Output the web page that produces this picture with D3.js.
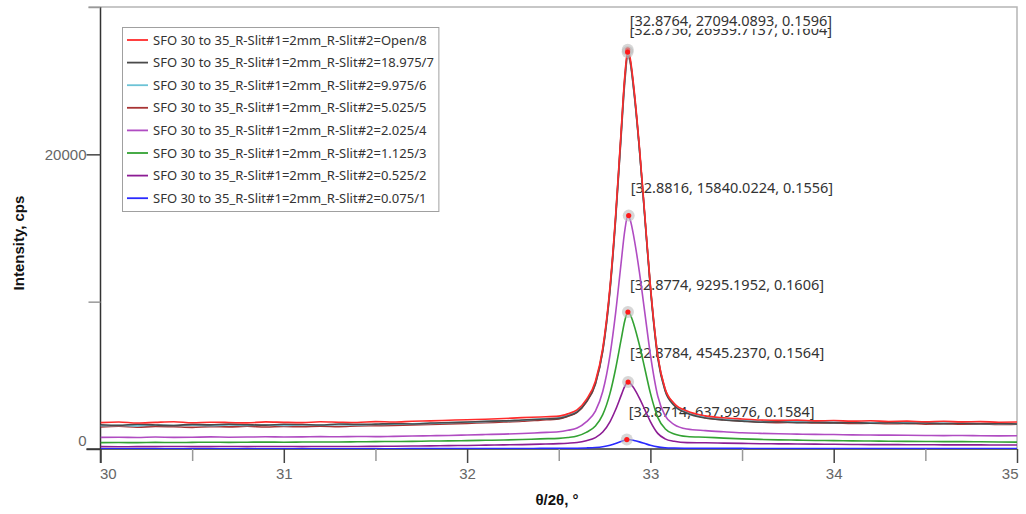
<!DOCTYPE html>
<html>
<head>
<meta charset="utf-8">
<script src="https://cdn.jsdelivr.net/npm/d3@7"></script>
<style>
  body { margin: 0; background: #fff; }
  .tick text { font-family: "Liberation Sans", Arial, sans-serif; font-size: 15px; fill: #666; }
  .title { font-family: "Liberation Sans", Arial, sans-serif; font-size: 15px; font-weight: bold; fill: #111; }
  .legend text, .peak text { font-family: "Noto Sans", "Open Sans", sans-serif; fill: #333; }
</style>
</head>
<body>
<svg id="chart" width="1026" height="514"></svg>
<script>
// 2θ positions (degrees), denser around the peak
const twoTheta = [
  30.0, 30.1, 30.2, 30.3, 30.4, 30.5, 30.6, 30.7, 30.8, 30.9, 31.0, 31.1, 31.2, 31.3, 31.4, 31.5,
  31.6, 31.7, 31.8, 31.9, 32.0, 32.1, 32.2, 32.3,
  32.4, 32.5, 32.55, 32.6, 32.65, 32.7, 32.74, 32.78, 32.81, 32.84, 32.86, 32.877, 32.89, 32.91,
  32.94, 32.97, 33.0, 33.04, 33.08, 33.13, 33.2, 33.3, 33.4, 33.5,
  33.6, 33.7, 33.8, 33.9, 34.0, 34.1, 34.2, 34.3, 34.4, 34.5, 34.6, 34.7, 34.8, 34.9, 35.0
];

const seriesNames = [
  "SFO 30 to 35_R-Slit#1=2mm_R-Slit#2=Open/8",
  "SFO 30 to 35_R-Slit#1=2mm_R-Slit#2=18.975/7",
  "SFO 30 to 35_R-Slit#1=2mm_R-Slit#2=9.975/6",
  "SFO 30 to 35_R-Slit#1=2mm_R-Slit#2=5.025/5",
  "SFO 30 to 35_R-Slit#1=2mm_R-Slit#2=2.025/4",
  "SFO 30 to 35_R-Slit#1=2mm_R-Slit#2=1.125/3",
  "SFO 30 to 35_R-Slit#1=2mm_R-Slit#2=0.525/2",
  "SFO 30 to 35_R-Slit#1=2mm_R-Slit#2=0.075/1"
];
const seriesColors = ["#ff2b2b", "#4a4a4a", "#6cc3d6", "#a83434", "#b04cc2", "#33a233", "#8c1c94", "#2a2aff"];

// intensity, cps
const slitOpen = [
  1790, 1830, 1760, 1810, 1850, 1780, 1820, 1800, 1770, 1840, 1810, 1790, 1850, 1820, 1800, 1860,
  1830, 1880, 1910, 1950, 1990, 2020, 2070, 2130,
  2175, 2230, 2390, 2650, 3350, 4600, 6850, 11080, 15810, 21535, 25270, 27094, 26513, 24516,
  20532, 15802, 11072, 6343, 4097, 3094, 2577, 2249, 2119, 2040,
  1970, 1940, 1960, 1910, 1930, 1890, 1920, 1870, 1890, 1850, 1880, 1840, 1860, 1820, 1830
];
const slit18975 = [
  1650, 1610, 1680, 1630, 1600, 1670, 1640, 1690, 1650, 1620, 1680, 1660, 1630, 1700, 1670, 1690,
  1720, 1700, 1760, 1790, 1830, 1880, 1910, 1970,
  2020, 2080, 2240, 2500, 3200, 4450, 6700, 10930, 15660, 21380, 25120, 26940, 26360, 24370,
  20380, 15650, 10920, 6190, 3950, 2950, 2430, 2100, 1970, 1890,
  1820, 1850, 1790, 1810, 1770, 1800, 1750, 1780, 1740, 1760, 1720, 1750, 1710, 1730, 1700
];
const slit9975 = [
  1580, 1600, 1570, 1620, 1590, 1610, 1580, 1630, 1600, 1620, 1600, 1640, 1610, 1650, 1630, 1660,
  1680, 1710, 1740, 1780, 1820, 1860, 1900, 1950,
  2040, 2120, 2310, 2570, 3260, 4500, 6720, 10900, 15650, 21300, 25000, 26800, 26300, 24300,
  20350, 15650, 10980, 6300, 4000, 3000, 2500, 2170, 2040, 1960,
  1900, 1880, 1860, 1850, 1830, 1820, 1800, 1790, 1780, 1770, 1750, 1750, 1730, 1720, 1710
];
const slit5025 = [
  1500, 1540, 1480, 1530, 1510, 1470, 1520, 1500, 1540, 1490, 1530, 1510, 1550, 1520, 1560, 1580,
  1600, 1630, 1670, 1700, 1740, 1790, 1830, 1880,
  1960, 2040, 2220, 2480, 3170, 4400, 6620, 10800, 15500, 21150, 24850, 26700, 26220, 24250,
  20350, 15700, 11050, 6380, 4080, 3050, 2500, 2130, 1980, 1900,
  1830, 1790, 1810, 1760, 1780, 1730, 1750, 1710, 1730, 1690, 1710, 1680, 1700, 1660, 1680
];
const slit2025 = [
  790, 800, 780, 810, 790, 800, 820, 800, 810, 830, 810, 820, 840, 830, 850, 840,
  860, 880, 900, 920, 950, 980, 1010, 1050,
  1110, 1170, 1270, 1420, 1840, 2570, 3900, 6410, 9210, 12600, 14810, 15840, 15545, 14370,
  12010, 9210, 6410, 3600, 2260, 1660, 1360, 1250, 1170, 1100,
  1060, 1030, 1010, 990, 980, 960, 950, 940, 930, 920, 910, 920, 900, 890, 900
];
const slit1125 = [
  430, 440, 430, 450, 440, 450, 460, 450, 460, 470, 460, 470, 480, 480, 490, 500,
  510, 520, 540, 550, 570, 590, 610, 640,
  690, 720, 780, 880, 1130, 1560, 2330, 3790, 5430, 7400, 8690, 9295, 9120, 8440,
  7060, 5430, 3790, 2150, 1380, 1020, 850, 800, 740, 690,
  650, 620, 600, 580, 570, 550, 540, 530, 520, 510, 500, 500, 490, 480, 470
];
const slit0525 = [
  160, 150, 160, 160, 170, 160, 160, 170, 160, 170, 170, 160, 170, 170, 170, 180,
  190, 200, 210, 230, 240, 260, 280, 300,
  330, 365, 395, 440, 560, 770, 1150, 1860, 2660, 3620, 4250, 4545, 4460, 4130,
  3450, 2660, 1860, 1060, 690, 520, 430, 420, 400, 380,
  360, 350, 340, 330, 320, 310, 300, 300, 290, 290, 280, 280, 280, 270, 270
];
const slit0075 = [
  20, 20, 20, 20, 20, 20, 20, 20, 20, 20, 20, 20, 20, 20, 20, 20,
  22, 24, 26, 28, 30, 32, 34, 36,
  40, 44, 50, 55, 70, 100, 155, 255, 370, 508, 598, 638, 628, 580,
  484, 370, 256, 142, 88, 64, 52, 45, 42, 40,
  38, 37, 36, 35, 34, 33, 32, 31, 30, 30, 29, 28, 28, 27, 27
];
const seriesValues = [slitOpen, slit18975, slit9975, slit5025, slit2025, slit1125, slit0525, slit0075];

// fitted peaks shown on the chart: [position, intensity, FWHM]
const peakFits = [
  [32.8764, 27094.0893, 0.1596],
  [32.8756, 26939.7137, 0.1604],
  [32.8816, 15840.0224, 0.1556],
  [32.8774, 9295.1952, 0.1606],
  [32.8784, 4545.2370, 0.1564],
  [32.8714, 637.9976, 0.1584]
];

const yTicks = [0, 10000, 20000, 30000];
const xTicks = [30, 30.5, 31, 31.5, 32, 32.5, 33, 33.5, 34, 34.5, 35];

const svg = d3.select("#chart");
const plotL = 100.5, plotR = 1017, plotT = 7, plotB = 449;

const x = d3.scaleLinear().domain([30, 35]).range([plotL, plotR]);
const y = d3.scaleLinear().domain([0, 30000]).range([plotB, plotT]);

// frame (top and right)
svg.append("path")
  .attr("d", `M${plotL - 12},${plotT}H${plotR}V${plotB}`)
  .attr("fill", "none").attr("stroke", "#b5b5b5").attr("stroke-width", 1.5);

// y axis
const yAxis = svg.append("g")
  .attr("transform", `translate(${plotL},0)`)
  .call(d3.axisLeft(y).tickValues(yTicks).tickSize(14).tickPadding(0)
    .tickFormat(d => (d === 0 || d === 20000) ? d : ""));
yAxis.select(".domain").attr("stroke", "#333").attr("stroke-width", 1.5)
  .attr("d", `M0,${plotT}V${plotB + 14}`);
yAxis.selectAll(".tick line").attr("stroke", "#444").attr("stroke-width", 1.5);
yAxis.selectAll(".tick").filter(d => d % 20000 !== 0)
  .select("line").attr("x2", -12).attr("stroke", "#999");
yAxis.selectAll(".tick").filter(d => d === 0).select("text").attr("dy", "-0.25em");

// x axis
const xAxis = svg.append("g")
  .attr("transform", `translate(0,${plotB})`)
  .call(d3.axisBottom(x).tickValues(xTicks).tickSize(14).tickPadding(5)
    .tickFormat(d => Number.isInteger(d) ? d : ""));
xAxis.select(".domain").attr("stroke", "#333").attr("stroke-width", 1.5)
  .attr("d", `M${plotL - 14},0H${plotR}`);
xAxis.selectAll(".tick line").attr("stroke", "#444").attr("stroke-width", 1.5);
xAxis.selectAll(".tick").filter(d => !Number.isInteger(d))
  .select("line").attr("y2", 12).attr("stroke", "#999");
xAxis.selectAll(".tick").filter(d => d === 30).select("text").attr("text-anchor", "start").attr("dx", -1);
xAxis.selectAll(".tick").filter(d => d === 35).select("text").attr("text-anchor", "end").attr("dx", 1);

// axis titles
svg.append("text").attr("class", "title")
  .attr("transform", "translate(24,243) rotate(-90)")
  .attr("text-anchor", "middle").text("Intensity, cps");
svg.append("text").attr("class", "title")
  .attr("x", 557).attr("y", 505)
  .attr("text-anchor", "middle").text("θ/2θ, °");

// peak labels (drawn below the curves)
const labelShift = [-29, -22, -28, -27, -29, -28];
const peakG = svg.append("g").attr("class", "peak");
const labelOrder = [1, 0, 2, 3, 4, 5];
labelOrder.forEach(i => {
  const p = peakFits[i];
  const g = peakG.append("g");
  const t = g.append("text")
    .attr("x", x(p[0]) + 2)
    .attr("y", y(p[1]) + labelShift[i])
    .attr("dy", "0.35em")
    .attr("font-size", 14.5)
    .text(`[${p[0].toFixed(4)}, ${p[1].toFixed(4)}, ${p[2].toFixed(4)}]`);
  if (i === 0) {
    const b = t.node().getBBox();
    g.insert("rect", "text")
      .attr("x", b.x - 1).attr("y", b.y + 1)
      .attr("width", b.width + 2).attr("height", b.height - 2)
      .attr("fill", "#fff");
  }
});

// curves
svg.append("clipPath").attr("id", "plot")
  .append("rect").attr("x", plotL).attr("y", plotT).attr("width", plotR - plotL).attr("height", plotB - plotT);

const line = d3.line()
  .x((d, i) => x(twoTheta[i]))
  .y(d => y(d))
  .curve(d3.curveMonotoneX);

const curves = svg.append("g").attr("clip-path", "url(#plot)");
d3.range(seriesValues.length).reverse().forEach(i => {
  curves.append("path")
    .datum(seriesValues[i])
    .attr("fill", "none")
    .attr("stroke", seriesColors[i])
    .attr("stroke-width", 1.6)
    .attr("d", line);
});

// peak markers
const markers = svg.append("g");
peakFits.forEach(p => {
  markers.append("circle").attr("cx", x(p[0])).attr("cy", y(p[1])).attr("r", 6)
    .attr("fill", "#bdbdbd").attr("opacity", 0.6);
  markers.append("circle").attr("cx", x(p[0])).attr("cy", y(p[1])).attr("r", 2.6)
    .attr("fill", "#ff1a1a");
});

// legend
const legend = svg.append("g").attr("class", "legend");
const legendBox = legend.append("rect")
  .attr("x", 122.5).attr("y", 27.5).attr("height", 184)
  .attr("fill", "#fff").attr("stroke", "#a0a0a0");
let maxW = 0;
seriesNames.forEach((name, i) => {
  const cy = 40 + i * 22.6;
  legend.append("line")
    .attr("x1", 127).attr("x2", 148).attr("y1", cy).attr("y2", cy)
    .attr("stroke", seriesColors[i]).attr("stroke-width", 1.8);
  const t = legend.append("text")
    .attr("x", 153).attr("y", cy).attr("dy", "0.35em")
    .attr("font-size", 13).text(name);
  maxW = Math.max(maxW, t.node().getComputedTextLength());
});
legendBox.attr("width", 153 + maxW + 5 - 122.5);
</script>
</body>
</html>
